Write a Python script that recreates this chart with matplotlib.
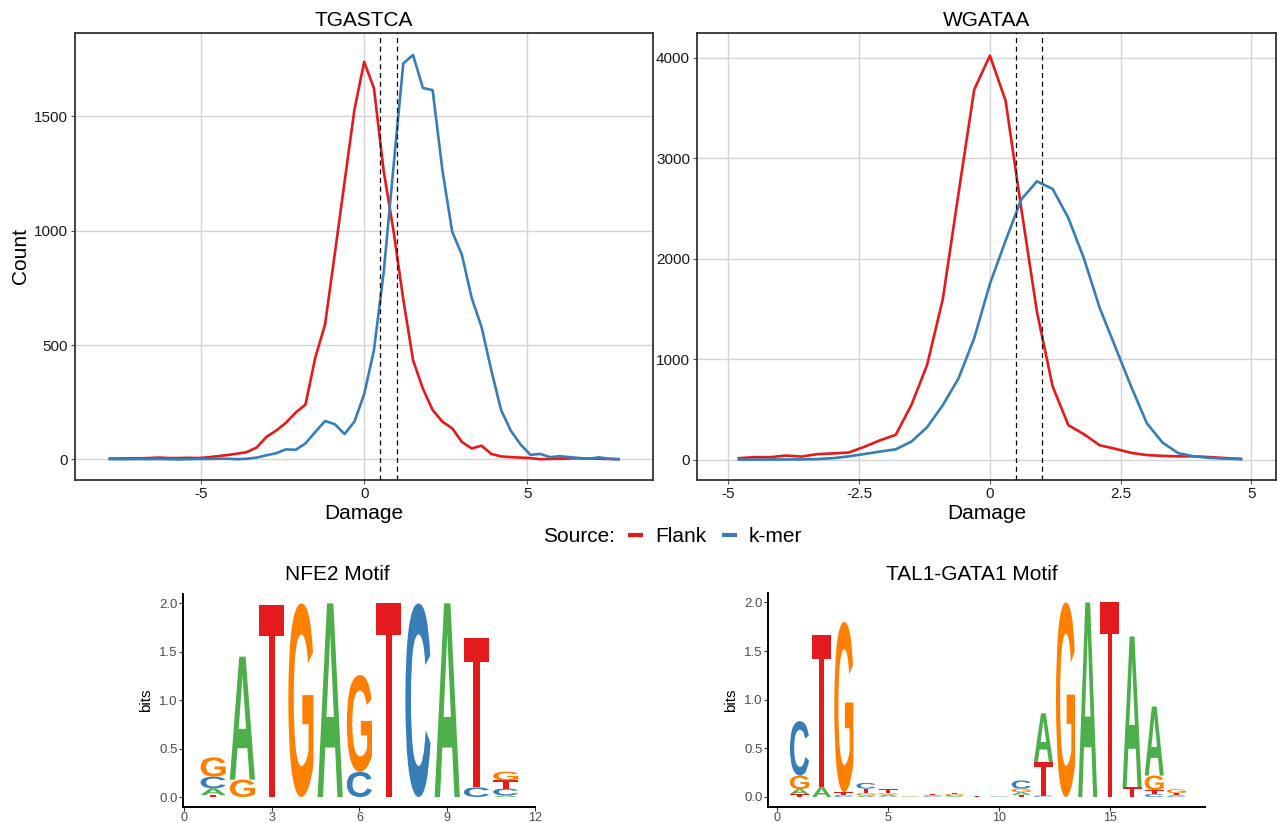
import numpy as np
import matplotlib
matplotlib.use("Agg")
import matplotlib.pyplot as plt
from matplotlib.lines import Line2D
from matplotlib.patches import PathPatch
from matplotlib.textpath import TextPath
from matplotlib.transforms import Affine2D
from matplotlib.font_manager import FontProperties

plt.rcParams["font.family"] = ["Liberation Sans", "DejaVu Sans"]
plt.rcParams["axes.unicode_minus"] = False

# damage histograms (bin centres, counts per source)
damage_tgastca = np.round(np.arange(-7.8, 7.81, 0.3), 1)
flank_tgastca = [4, 4, 5, 5, 6, 8, 6, 6, 7, 6, 9, 14, 19, 25, 32, 52, 98, 126, 160, 205,
                 240, 445, 590, 900, 1215, 1528, 1739,
                 1623, 1260, 1000, 700, 434, 310, 216, 165, 136, 76, 48, 60, 24, 13,
                 10, 8, 6, 1, 2, 3, 4, 5, 4, 3, 2, 1]
kmer_tgastca = [1, 1, 1, 2, 1, 2, 1, 0, 1, 2, 2, 3, 3, 1, 3, 8, 18, 27, 44, 42,
                70, 120, 168, 154, 111, 165, 285,
                478, 820, 1280, 1732, 1769, 1625, 1615, 1265, 996, 894, 705, 580, 390, 216,
                125, 65, 20, 24, 10, 14, 10, 6, 3, 9, 3, 1]

damage_wgataa = np.round(np.arange(-4.8, 4.81, 0.3), 1)
flank_wgataa = [17, 27, 27, 43, 33, 57, 64, 73, 130, 195, 249, 547, 945, 1600, 2650, 3682,
                4020,
                3572, 2500, 1470, 730, 345, 255, 145, 110, 70, 48, 40, 35, 35, 28, 18, 10]
kmer_wgataa = [3, 3, 4, 4, 5, 8, 17, 35, 58, 83, 105, 182, 325, 545, 810, 1210,
               1750,
               2180, 2590, 2770, 2694, 2405, 2000, 1510, 1120, 730, 365, 172, 67, 35, 20, 12, 8]

thresholds = [0.5, 1.0]

# motif logos: per position, (base, bits) stacked from the bottom up
nfe2_motif = [
    [("T", 0.02), ("A", 0.07), ("C", 0.12), ("G", 0.20)],
    [("G", 0.18), ("A", 1.27)],
    [("T", 1.98)],
    [("G", 2.00)],
    [("A", 2.00)],
    [("C", 0.26), ("G", 1.00)],
    [("T", 2.00)],
    [("C", 2.00)],
    [("A", 2.00)],
    [("C", 0.10), ("T", 1.54)],
    [("A", 0.017), ("C", 0.07), ("T", 0.085), ("G", 0.09)],
]
tal1_gata1_motif = [
    [("T", 0.03), ("A", 0.05), ("G", 0.14), ("C", 0.56)],
    [("A", 0.10), ("T", 1.57)],
    [("C", 0.02), ("T", 0.03), ("G", 1.75)],
    [("A", 0.015), ("G", 0.025), ("T", 0.045), ("C", 0.06)],
    [("C", 0.005), ("A", 0.02), ("G", 0.015), ("T", 0.04)],
    [("A", 0.004), ("G", 0.004), ("T", 0.004)],
    [("C", 0.008), ("A", 0.008), ("G", 0.008), ("T", 0.008)],
    [("A", 0.01), ("C", 0.012), ("G", 0.01), ("T", 0.013)],
    [("A", 0.004), ("T", 0.004)],
    [("A", 0.004), ("C", 0.004), ("T", 0.004)],
    [("T", 0.02), ("A", 0.03), ("G", 0.035), ("C", 0.085)],
    [("C", 0.015), ("T", 0.345), ("A", 0.50)],
    [("G", 2.00)],
    [("A", 2.00)],
    [("T", 2.00)],
    [("T", 0.10), ("A", 1.55)],
    [("C", 0.03), ("T", 0.04), ("G", 0.15), ("A", 0.71)],
    [("C", 0.01), ("A", 0.01), ("T", 0.02), ("G", 0.04)],
]

RED, BLUE, GREEN, ORANGE = "#E41A1C", "#377EB8", "#4DAF4A", "#FF7F00"
base_colors = {"A": GREEN, "C": BLUE, "G": ORANGE, "T": RED}
letter_font = FontProperties(family="Liberation Sans", weight="bold")

W, H = 1277, 823
fig = plt.figure(figsize=(W / 100, H / 100), dpi=100)


def px_axes(left, top, right, bottom):
    return fig.add_axes([left / W, 1 - bottom / H, (right - left) / W, (bottom - top) / H])


def damage_panel(ax, x, flank, kmer, title, xlim, ylim, xticks, yticks):
    ax.plot(x, flank, color=RED, lw=1.9, zorder=3)
    ax.plot(x, kmer, color=BLUE, lw=1.9, zorder=3)
    for t in thresholds:
        ax.axvline(t, color="black", ls=(0, (4, 3)), lw=0.9, zorder=4)
    ax.set_xlim(*xlim)
    ax.set_ylim(*ylim)
    ax.set_xticks(xticks)
    ax.set_yticks(yticks)
    ax.grid(True, color="#D4D4D4", lw=1.0, zorder=0)
    ax.set_axisbelow(True)
    for s in ax.spines.values():
        s.set_color("#333333")
        s.set_linewidth(1.3)
    ax.tick_params(length=3, width=0.8, color="#555555", labelsize=11, labelcolor="#1A1A1A", pad=2)
    ax.set_title(title, fontsize=15, pad=5)
    ax.set_xlabel("Damage", fontsize=15, labelpad=2)


ax1 = px_axes(75, 33, 653, 480)
damage_panel(ax1, damage_tgastca, flank_tgastca, kmer_tgastca, "TGASTCA",
             (-8.87, 8.86), (-90, 1865), [-5, 0, 5], [0, 500, 1000, 1500])
ax1.set_ylabel("Count", fontsize=15, labelpad=3)

ax2 = px_axes(697, 33, 1276, 480)
damage_panel(ax2, damage_wgataa, flank_wgataa, kmer_wgataa, "WGATAA",
             (-5.6, 5.47), (-200, 4245), [-5, -2.5, 0, 2.5, 5], [0, 1000, 2000, 3000, 4000])
ax2.set_xticklabels(["-5", "-2.5", "0", "2.5", "5"])

# shared legend
fig.text(543 / W, 1 - 537 / H, "Source:", fontsize=15, ha="left", va="center")
handles = [Line2D([], [], color=RED, lw=3, solid_capstyle="butt"),
           Line2D([], [], color=BLUE, lw=3, solid_capstyle="butt")]
fig.legend(handles, ["Flank", "k-mer"], loc="center left", bbox_to_anchor=(628 / W, 1 - 537 / H),
           ncol=2, frameon=False, fontsize=15, handlelength=0.7, handletextpad=0.6,
           columnspacing=0.75, borderpad=0, borderaxespad=0)


def draw_logo(ax, motif, title, title_x, xlim, xticks):
    for pos, column in enumerate(motif, start=1):
        y0 = 0.0
        for base, bits in column:
            tp = TextPath((0, 0), base, size=1, prop=letter_font)
            ext = tp.get_extents()
            width = 0.86
            tr = (Affine2D().translate(-ext.x0, -ext.y0)
                  .scale(width / ext.width, bits / ext.height)
                  .translate(pos - width / 2, y0))
            ax.add_patch(PathPatch(tr.transform_path(tp), fc=base_colors[base], ec="none"))
            y0 += bits
    ax.set_xlim(*xlim)
    ax.set_ylim(-0.103, 2.097)
    ax.set_xticks(xticks)
    ax.set_yticks([0, 0.5, 1.0, 1.5, 2.0])
    ax.set_yticklabels(["0.0", "0.5", "1.0", "1.5", "2.0"])
    for s in ("top", "right"):
        ax.spines[s].set_visible(False)
    for s in ("left", "bottom"):
        ax.spines[s].set_color("black")
        ax.spines[s].set_linewidth(1.4)
    ax.tick_params(length=3, width=0.8, color="#333333", labelsize=9.5, labelcolor="#4D4D4D", pad=1)
    ax.tick_params(axis="x", labelsize=9, pad=0.5)
    ax.set_ylabel("bits", fontsize=11, labelpad=4)
    fig.text(title_x / W, 1 - 575 / H, title, fontsize=15, ha="center", va="center")


ax3 = px_axes(183, 594, 535, 807)
draw_logo(ax3, nfe2_motif, "NFE2 Motif", 337, (-0.03, 12.0), [0, 3, 6, 9, 12])

ax4 = px_axes(768, 593, 1205, 807)
draw_logo(ax4, tal1_gata1_motif, "TAL1-GATA1 Motif", 972, (-0.42, 19.29), [0, 5, 10, 15])

fig.savefig("out.png", dpi=100)
